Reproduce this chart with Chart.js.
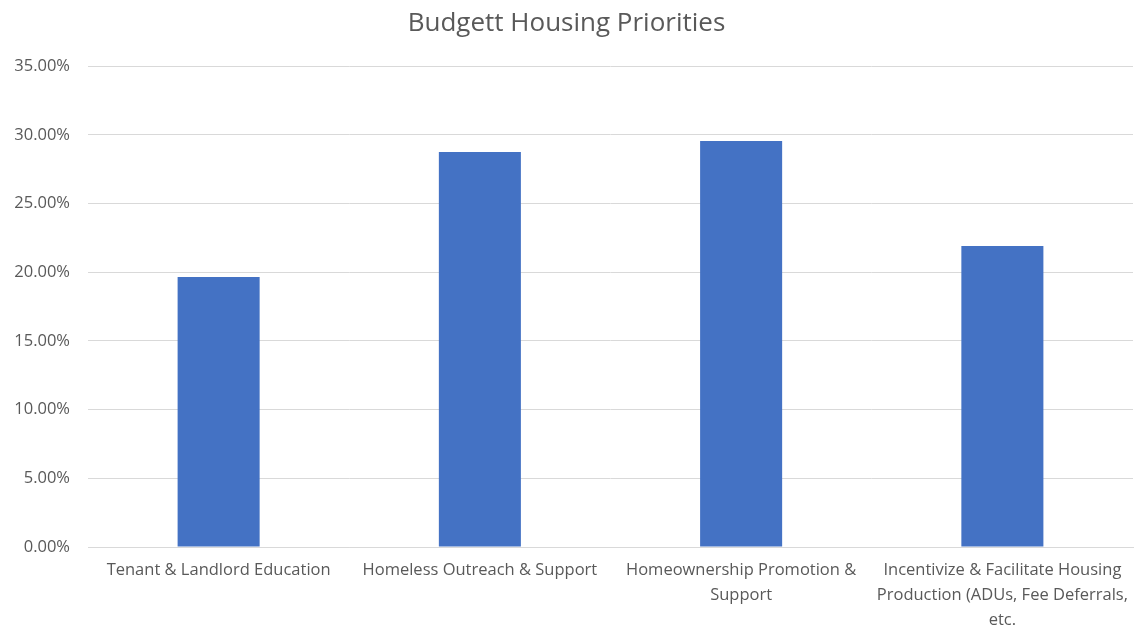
<!DOCTYPE html>
<html>
<head>
<meta charset="utf-8">
<script src="https://cdn.jsdelivr.net/npm/chart.js@4/dist/chart.umd.min.js"></script>
<style>
  html, body { margin: 0; padding: 0; background: #fff; }
  #wrap { width: 1137px; height: 633px; }
</style>
</head>
<body>
<div id="wrap"><canvas id="budgetChart" width="1137" height="633"></canvas></div>
<script>
// chart data
const categories = [
  ['Tenant & Landlord Education'],
  ['Homeless Outreach & Support'],
  ['Homeownership Promotion &', 'Support'],
  ['Incentivize & Facilitate Housing', 'Production (ADUs, Fee Deferrals,', 'etc.']
];
const shares = [19.66, 28.76, 29.56, 21.91];
const yTicks = [0, 5, 10, 15, 20, 25, 30, 35];

const textGrey = '#595959';
const gridGrey = '#d9d9d9';

const ctx = document.getElementById('budgetChart').getContext('2d');

const budgetChart = new Chart(ctx, {
  type: 'bar',
  data: {
    labels: categories,
    datasets: [{
      label: 'Share',
      data: shares,
      backgroundColor: '#4472c4',
      borderWidth: 0,
      categoryPercentage: 1,
      barPercentage: 0.314
    }]
  },
  options: {
    responsive: false,
    animation: false,
    layout: { padding: { left: 0, right: 4, top: 8, bottom: 0 } },
    plugins: {
      legend: { display: false },
      tooltip: { enabled: false },
      title: {
        display: true,
        text: 'Budgett Housing Priorities',
        color: textGrey,
        font: { family: 'Open Sans', size: 26, weight: 'normal', lineHeight: 1.2 },
        padding: { top: 0, bottom: 27 }
      }
    },
    scales: {
      x: {
        grid: { display: false },
        border: { color: gridGrey, width: 1 },
        ticks: {
          color: textGrey,
          font: { family: 'Open Sans', size: 16.5, lineHeight: 1.52 },
          maxRotation: 0,
          autoSkip: false,
          padding: 3
        },
        afterFit: (scale) => { scale.height = 86; }
      },
      y: {
        min: 0,
        max: 35,
        afterBuildTicks: (scale) => { scale.ticks = yTicks.map(v => ({ value: v })); },
        grid: { color: gridGrey, drawTicks: false },
        border: { display: false },
        ticks: {
          color: textGrey,
          font: { family: 'Open Sans', size: 16.5 },
          padding: 18,
          callback: (v) => v.toFixed(2) + '%'
        },
        afterFit: (scale) => { scale.width = 88; }
      }
    }
  }
});
</script>
</body>
</html>
